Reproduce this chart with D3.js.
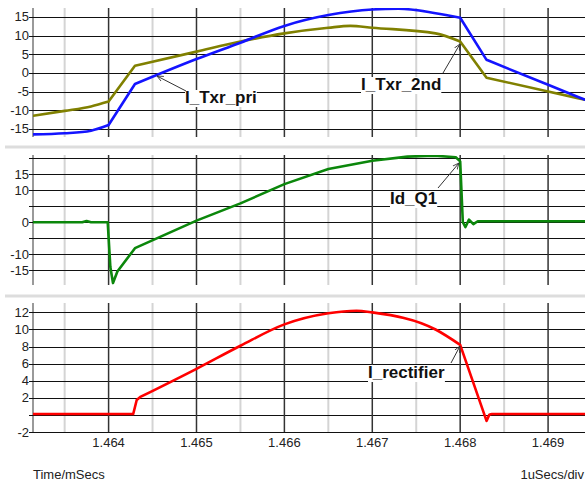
<!DOCTYPE html>
<html>
<head>
<meta charset="utf-8">
<script src="https://cdn.jsdelivr.net/npm/d3@7"></script>
<style>
  body { margin: 0; background: #fff; }
  svg { display: block; font-family: Arial, "Liberation Sans", sans-serif; }
</style>
</head>
<body>
<div id="chart"></div>
<script>
// Transformer / rectifier currents, three stacked panels

// time axis (mSecs)
var xTicks = [1.464, 1.465, 1.466, 1.467, 1.468, 1.469];
var xMinor = [1.4635, 1.4645, 1.4655, 1.4665, 1.4675, 1.4685, 1.4695];

// panel 1: I_Txr_pri (blue) and I_Txr_2nd (olive)
var priT = [1.46314, 1.4635, 1.4638, 1.464, 1.4643, 1.465, 1.4655, 1.466, 1.4665, 1.467, 1.4673, 1.46772, 1.468, 1.4683, 1.469, 1.46942];
var priV = [-16.5, -16.2, -15.5, -14.0, -3.0, 3.7, 8.1, 12.6, 15.5, 17.0, 17.2, 16.0, 14.8, 3.5, -3.2, -7.2];
var secT = [1.46314, 1.4635, 1.4638, 1.464, 1.4643, 1.465, 1.4655, 1.466, 1.4665, 1.46675, 1.467, 1.46772, 1.468, 1.4683, 1.469, 1.46942];
var secV = [-11.5, -10.2, -9.0, -7.7, 1.9, 5.7, 8.4, 10.6, 12.1, 12.6, 12.1, 10.6, 8.4, -1.3, -5.0, -7.2];
// switching instants where the traces have sharp corners
var txrCorners = [1.464, 1.4643, 1.468, 1.4683];

// panel 2: Id_Q1 (green)
var q1T = [1.46314, 1.4637, 1.46375, 1.4638, 1.46399, 1.46402, 1.46405, 1.4641, 1.4643, 1.465, 1.4655, 1.466, 1.4665, 1.467, 1.4674, 1.4677, 1.46795, 1.468, 1.46803, 1.46806, 1.4681, 1.46815, 1.4682, 1.469, 1.46942];
var q1V = [0, 0, 0.4, 0, 0, -14, -19, -15.4, -8.1, 0.5, 5.9, 11.9, 16.6, 19.2, 20.5, 20.8, 20.3, 19.0, 0.0, -1.5, 0.8, -0.6, 0.3, 0.3, 0.3];

// panel 3: I_rectifier (red)
var recT = [1.46314, 1.46428, 1.46432, 1.46436, 1.465, 1.4655, 1.466, 1.4665, 1.46682, 1.467, 1.46772, 1.468, 1.4683, 1.46833, 1.46836, 1.46942];
var recV = [0.1, 0.1, 1.75, 2.1, 5.4, 8.1, 10.6, 11.9, 12.2, 12.0, 10.0, 8.2, -0.7, 0.0, 0.1, 0.1];
var recCorners = [1.46428, 1.46432, 1.46436, 1.468, 1.4683, 1.46833];

// y ticks / grid per panel
var p1Grid = [15, 10, 5, 0, -5, -10, -15];
var p1Labels = [15, 10, 5, 0, -5, -10, -15];
var p2Grid = [20, 15, 10, 5, 0, -5, -10, -15];
var p2Labels = [15, 10, 0, -10, -15];
var p3Grid = [12, 10, 8, 6, 4, 2, 0, -2];
var p3Labels = [12, 10, 8, 6, 4, 2, -2];

var svgWidth = 585;
var svgHeight = 485;
var left = 33;

var svg = d3.select("#chart")
    .append("svg")
    .attr("width", svgWidth)
    .attr("height", svgHeight);

var xScale = d3.scaleLinear()
    .domain([1.46314, 1.46942])
    .range([left, svgWidth]);

var defs = svg.append("defs");
defs.append("marker")
    .attr("id", "arrow")
    .attr("viewBox", "0 0 10 10")
    .attr("refX", 9)
    .attr("refY", 5)
    .attr("markerWidth", 7)
    .attr("markerHeight", 7)
    .attr("markerUnits", "userSpaceOnUse")
    .attr("orient", "auto")
    .append("path")
    .attr("d", "M0,1 L9,5 L0,9")
    .attr("fill", "none")
    .attr("stroke", "#333")
    .attr("stroke-width", 1.2);

// panel separators
[147, 296].forEach(function(y) {
    svg.append("line")
        .attr("x1", 5).attr("x2", svgWidth)
        .attr("y1", y).attr("y2", y)
        .attr("stroke", "#dddddd")
        .attr("stroke-width", 3);
});

var panels = [
    { id: "p1", top: 8, bottom: 137, domain: [-17.2, 17.4], grid: p1Grid, labels: p1Labels,
      series: [{ t: secT, v: secV, color: "#808000", corners: txrCorners },
               { t: priT, v: priV, color: "#1414ff", corners: txrCorners }] },
    { id: "p2", top: 155, bottom: 285, domain: [-19.6, 21], grid: p2Grid, labels: p2Labels,
      series: [{ t: q1T, v: q1V, color: "#0b870b", corners: null }] },
    { id: "p3", top: 303, bottom: 432, domain: [-2, 13.1], grid: p3Grid, labels: p3Labels,
      series: [{ t: recT, v: recV, color: "#ff0000", corners: recCorners }] }
];

panels.forEach(function(p) {
    var yScale = d3.scaleLinear()
        .domain(p.domain)
        .range([p.bottom, p.top]);

    var g = svg.append("g");

    defs.append("clipPath")
        .attr("id", "clip-" + p.id)
        .append("rect")
        .attr("x", left).attr("y", p.top)
        .attr("width", svgWidth - left).attr("height", p.bottom - p.top);

    // minor vertical grid
    g.selectAll(".minor")
        .data(xMinor)
        .enter()
        .append("line")
        .attr("x1", d => xScale(d)).attr("x2", d => xScale(d))
        .attr("y1", p.top).attr("y2", p.bottom)
        .attr("stroke", "#d4d4d4")
        .attr("stroke-width", 2);

    // left border
    g.append("line")
        .attr("x1", left).attr("x2", left)
        .attr("y1", p.top).attr("y2", p.bottom)
        .attr("stroke", "#9a9a9a")
        .attr("stroke-width", 2);

    // horizontal grid
    g.selectAll(".hgrid")
        .data(p.grid)
        .enter()
        .append("line")
        .attr("x1", 29).attr("x2", svgWidth)
        .attr("y1", d => Math.round(yScale(d)) + 0.5)
        .attr("y2", d => Math.round(yScale(d)) + 0.5)
        .attr("stroke", "#111")
        .attr("stroke-width", 1);

    // major vertical grid
    g.selectAll(".major")
        .data(xTicks)
        .enter()
        .append("line")
        .attr("x1", d => xScale(d)).attr("x2", d => xScale(d))
        .attr("y1", p.top).attr("y2", p.bottom)
        .attr("stroke", "#333")
        .attr("stroke-width", 1.5);

    // y tick labels
    g.selectAll(".ylab")
        .data(p.labels)
        .enter()
        .append("text")
        .attr("x", 29)
        .attr("y", d => yScale(d))
        .attr("dy", "0.35em")
        .attr("text-anchor", "end")
        .attr("font-size", 13)
        .attr("fill", "#222")
        .text(d => d);

    // traces: smooth between switching corners, sharp at the corners
    p.series.forEach(function(s) {
        var pts = s.t.map((t, i) => [t, s.v[i]]);
        var pieces = [];
        if (s.corners) {
            var cur = [];
            pts.forEach(function(pt) {
                cur.push(pt);
                if (s.corners.indexOf(pt[0]) >= 0) {
                    pieces.push(cur);
                    cur = [pt];
                }
            });
            if (cur.length > 1) pieces.push(cur);
        } else {
            pieces.push(pts);
        }
        var line = d3.line()
            .x(d => xScale(d[0]))
            .y(d => yScale(d[1]))
            .curve(s.corners ? d3.curveMonotoneX : d3.curveLinear);
        g.append("path")
            .attr("clip-path", "url(#clip-" + p.id + ")")
            .attr("d", pieces.map(pc => line(pc)).join(""))
            .attr("fill", "none")
            .attr("stroke", s.color)
            .attr("stroke-width", 2.6)
            .attr("stroke-linejoin", "round")
            .attr("stroke-linecap", "round");
    });
});

// x axis labels
svg.append("g").selectAll("text")
    .data(xTicks)
    .enter()
    .append("text")
    .attr("x", d => xScale(d))
    .attr("y", 447)
    .attr("text-anchor", "middle")
    .attr("font-size", 13)
    .attr("fill", "#222")
    .text(d => d3.format(".3f")(d));

svg.append("text")
    .attr("x", 33).attr("y", 479)
    .attr("font-size", 13)
    .attr("fill", "#222")
    .text("Time/mSecs");

svg.append("text")
    .attr("x", 584).attr("y", 479)
    .attr("text-anchor", "end")
    .attr("font-size", 13)
    .attr("fill", "#222")
    .text("1uSecs/div");

// curve labels with arrows
var notes = [
    { text: "I_Txr_pri", x: 185, y: 103, x1: 186, y1: 91, x2: 157, y2: 76 },
    { text: "I_Txr_2nd", x: 361, y: 90, x1: 443, y1: 73, x2: 460, y2: 44 },
    { text: "Id_Q1", x: 390, y: 204, x1: 438, y1: 188, x2: 459, y2: 163 },
    { text: "I_rectifier", x: 368, y: 378, x1: 451, y1: 363, x2: 460, y2: 346 }
];

notes.forEach(function(n) {
    var lg = svg.append("g");
    var bg = lg.append("rect").attr("fill", "#fff");
    var t = lg.append("text")
        .attr("x", n.x).attr("y", n.y)
        .attr("font-size", 17)
        .attr("font-weight", "bold")
        .attr("fill", "#111")
        .text(n.text);
    var bb = t.node().getBBox();
    bg.attr("x", bb.x).attr("y", bb.y + 2)
        .attr("width", bb.width).attr("height", bb.height - 2);
    lg.append("line")
        .attr("x1", n.x1).attr("y1", n.y1)
        .attr("x2", n.x2).attr("y2", n.y2)
        .attr("stroke", "#333")
        .attr("stroke-width", 1)
        .attr("marker-end", "url(#arrow)");
});
</script>
</body>
</html>
